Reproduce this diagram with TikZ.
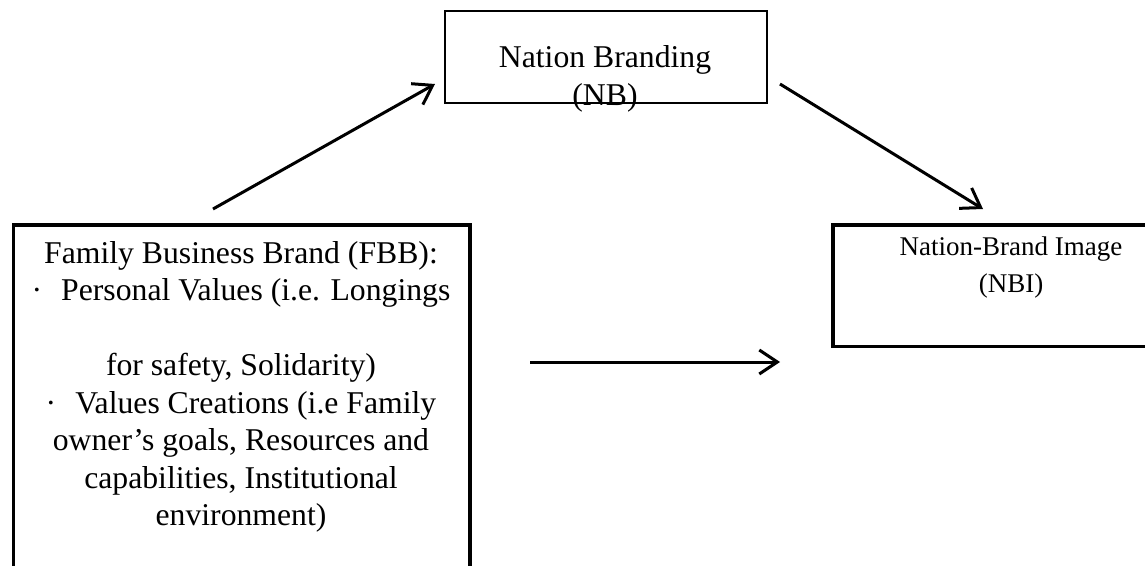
\documentclass[tikz,border=0pt]{standalone}
\usepackage{fontspec}
\setmainfont{Liberation Serif}
\usetikzlibrary{arrows.meta}
\begin{document}
\begin{tikzpicture}[x=1pt,y=-1pt,
  boxtext/.style={font=\fontsize{31.7}{37.5}\selectfont, align=center, inner sep=0pt},
  smalltext/.style={font=\fontsize{27}{37}\selectfont, align=center, inner sep=0pt},
  heavybox/.style={draw, line width=3.5pt, outer sep=0pt, inner sep=0pt},
  thinbox/.style={draw, line width=1.2pt, outer sep=0pt, inner sep=0pt},
  link/.style={line width=3pt, -{Straight Barb[length=18pt,width=24pt,line width=3pt]}}]
\useasboundingbox (0,0) rectangle (1145,565);
\clip (0,0) rectangle (1145,565);

% boxes (the lower and right-hand ones run past the page edge)
\node[thinbox, minimum width=322pt, minimum height=92pt] (nb) at (606,57) {};
\node[heavybox, minimum width=456.5pt, minimum height=400pt] (fbb) at (241.75,425) {};
\node[heavybox, minimum width=357pt, minimum height=121.5pt] (nbi) at (1011.5,285.75) {};

% box texts
\node[boxtext, anchor=north] (nbtext) at (605,45.5) {Nation Branding\\(NB)};
\node[smalltext, anchor=north] (nbitext) at (1011,236.5) {Nation-Brand Image\\(NBI)};
\node[boxtext, anchor=north] (fbbtext) at (241,241) {Family Business Brand (FBB):\\
  ·\hspace{0.6em}Personal Values (i.e. Longings\\[37.5pt]
  for safety, Solidarity)\\
  ·\hspace{0.6em}Values Creations (i.e Family\\
  owner’s goals, Resources and\\
  capabilities, Institutional\\
  environment)};

% arrow end points
\coordinate (a1s) at (213,209);
\coordinate (a1e) at (435,84);
\coordinate (a2s) at (780,84);
\coordinate (a2e) at (983,209);
\coordinate (a3s) at (530,362);
\coordinate (a3e) at (780,362);

\draw[link] (a1s) -- (a1e);
\draw[link] (a2s) -- (a2e);
\draw[link] (a3s) -- (a3e);
\end{tikzpicture}
\end{document}
